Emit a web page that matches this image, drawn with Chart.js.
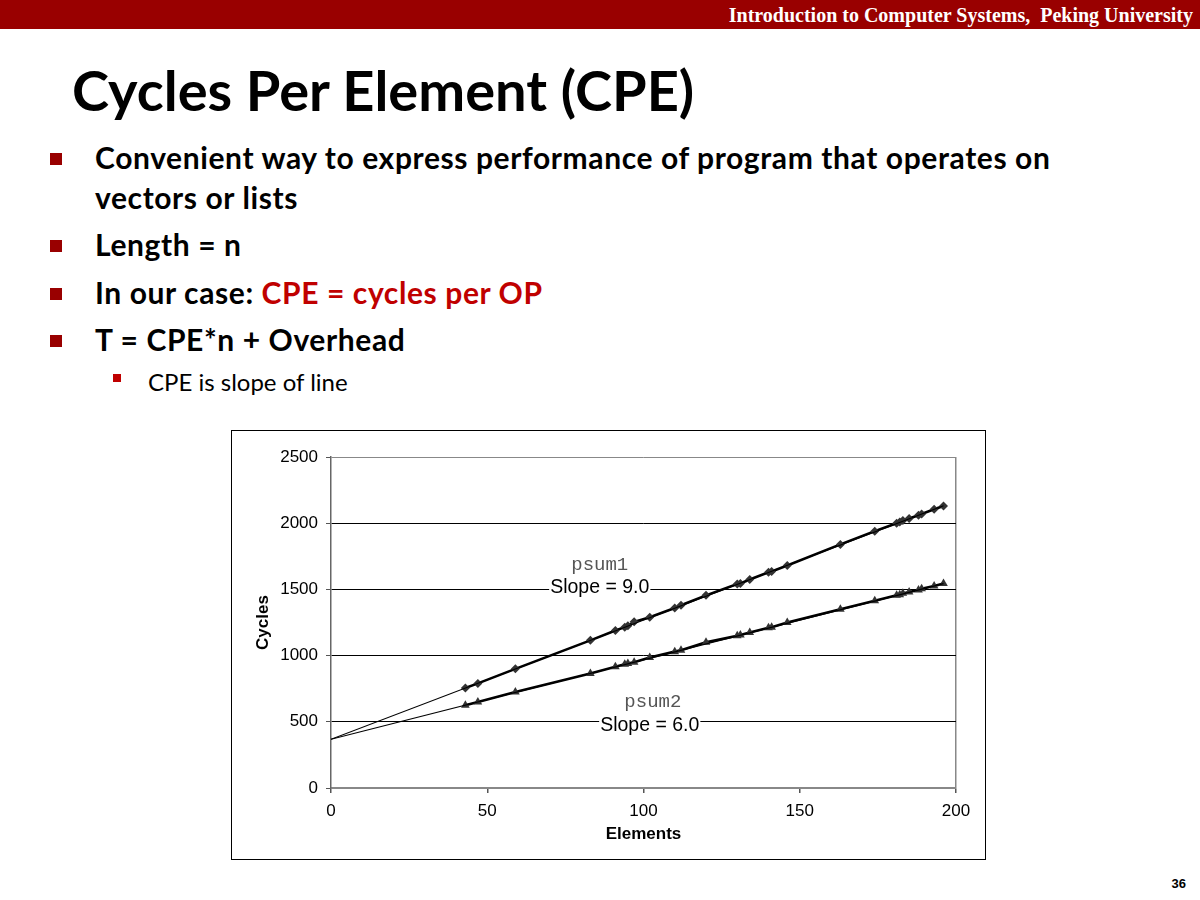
<!DOCTYPE html>
<html>
<head>
<meta charset="utf-8">
<script src="https://cdn.jsdelivr.net/npm/chart.js@4/dist/chart.umd.min.js"></script>
<style>
  body { margin: 0; width: 1200px; height: 900px; background: #fff; position: relative; overflow: hidden; font-family: Lato, sans-serif; }
  .topbar { position: absolute; left: 0; top: 0; width: 1200px; height: 29px; background: #990000; }
  .topbar span { position: absolute; right: 7px; top: 3px; color: #fff; font: bold 20px "Liberation Serif", serif; line-height: 24px; }
  h1 { position: absolute; left: 72px; top: 60px; margin: 0; font: 700 56px Lato, sans-serif; line-height: 60px; color: #000; }
  .b { position: absolute; left: 95px; font: 700 30px Lato, sans-serif; letter-spacing: 0.6px; color: #000; line-height: 40px; }
  .sq { position: absolute; left: 50px; width: 12px; height: 12px; background: #990000; }
  .red { color: #c00000; }
  .sub { position: absolute; left: 148px; top: 366px; font: 400 24px Lato, sans-serif; line-height: 32px; }
  .sq2 { position: absolute; left: 113px; top: 374px; width: 8px; height: 8px; background: #c00000; }
  .page { position: absolute; right: 14px; top: 876px; font: bold 13px "Liberation Sans", sans-serif; }
  #box { position: absolute; left: 231px; top: 430px; width: 753px; height: 428px; border: 1px solid #000; }
</style>
</head>
<body>
<div class="topbar"><span>Introduction to Computer Systems,&nbsp; Peking University</span></div>
<h1>Cycles Per Element (CPE)</h1>
<div class="sq" style="top:153px"></div>
<div class="b" style="top:137px">Convenient way to express performance of program that operates on<br>vectors or lists</div>
<div class="sq" style="top:240px"></div>
<div class="b" style="top:224px">Length = n</div>
<div class="sq" style="top:288px"></div>
<div class="b" style="top:272px">In our case: <span class="red">CPE = cycles per OP</span></div>
<div class="sq" style="top:335px"></div>
<div class="b" style="top:319px">T = CPE*n + Overhead</div>
<div class="sq2"></div>
<div class="sub">CPE is slope of line</div>
<div class="page">36</div>

<div id="box"><canvas id="cpe"></canvas></div>

<script>
// element counts measured
const elements = [43, 47, 59, 83, 91, 94, 95, 97, 102, 110, 112, 120, 130, 131, 134, 140, 141, 146, 163, 174, 181, 182, 183, 185, 188, 189, 193, 196];
const psum1Cycles = [755, 790, 900, 1115, 1190, 1215, 1225, 1255, 1290, 1360, 1380, 1455, 1540, 1545, 1575, 1630, 1635, 1680, 1840, 1940, 2000, 2010, 2020, 2035, 2060, 2070, 2105, 2130];
const psum2Cycles = [625, 650, 725, 865, 915, 935, 940, 950, 985, 1030, 1040, 1100, 1150, 1155, 1175, 1210, 1215, 1250, 1350, 1415, 1455, 1460, 1470, 1480, 1495, 1505, 1525, 1545];

// fitted lines (from x=0 to last element)
const fitX = [0, 196];
const fit1 = [368, 2132];
const fit2 = [368, 1544];

const yTicks = [0, 500, 1000, 1500, 2000, 2500];
const xTicks = [0, 50, 100, 150, 200];

// labels drawn inside the plot: [x, y, text, font, colour]
const notes = [
  [86, 1684, 'psum1', '19px "Liberation Mono", monospace', '#555'],
  [86, 1510, 'Slope = 9.0', '19.5px "Liberation Sans", Arial, sans-serif', '#000'],
  [103, 650, 'psum2', '19px "Liberation Mono", monospace', '#555'],
  [102, 468, 'Slope = 6.0', '19.5px "Liberation Sans", Arial, sans-serif', '#000']
];

function pts(xs, ys) {
  return xs.map((x, i) => ({ x: x, y: ys[i] }));
}

const notesPlugin = {
  id: 'notes',
  afterDatasetsDraw(chart) {
    const ctx = chart.ctx;
    const xs = chart.scales.x, ys = chart.scales.y;
    ctx.save();
    ctx.textAlign = 'center';
    ctx.textBaseline = 'middle';
    notes.forEach(n => {
      const px = xs.getPixelForValue(n[0]);
      const py = ys.getPixelForValue(n[1]);
      ctx.font = n[3];
      const w = ctx.measureText(n[2]).width;
      if (n[2].startsWith('Slope')) {
        ctx.fillStyle = '#fff';
        ctx.fillRect(px - w / 2 - 1, py - 10, w + 2, 20);
      }
      ctx.fillStyle = n[4];
      ctx.fillText(n[2], px, py);
    });
    ctx.restore();
  }
};

const tickFont = { family: '"Liberation Sans", Arial, sans-serif', size: 17 };
const titleFont = { family: '"Liberation Sans", Arial, sans-serif', size: 17, weight: 'bold' };

new Chart(document.getElementById('cpe'), {
  type: 'scatter',
  data: {
    datasets: [
      { label: 'fit1', data: pts(fitX, fit1), showLine: true, borderColor: '#000', borderWidth: 1.2, pointRadius: 0 },
      { label: 'fit2', data: pts(fitX, fit2), showLine: true, borderColor: '#000', borderWidth: 1.2, pointRadius: 0 },
      { label: 'psum1', data: pts(elements, psum1Cycles), showLine: true, borderColor: '#000', borderWidth: 2.6,
        pointStyle: 'rectRot', pointRadius: 4.5, pointBackgroundColor: '#333', pointBorderColor: '#333', pointBorderWidth: 0 },
      { label: 'psum2', data: pts(elements, psum2Cycles), showLine: true, borderColor: '#000', borderWidth: 2.6,
        pointStyle: 'triangle', pointRadius: 5, pointBackgroundColor: '#333', pointBorderColor: '#333', pointBorderWidth: 0 }
    ]
  },
  options: {
    responsive: true,
    maintainAspectRatio: false,
    animation: false,
    layout: { padding: { top: 26, right: 29, left: 0, bottom: 0 } },
    plugins: { legend: { display: false }, tooltip: { enabled: false } },
    scales: {
      x: {
        type: 'linear', min: 0, max: 200,
        afterBuildTicks: s => { s.ticks = xTicks.map(v => ({ value: v })); },
        afterFit: s => { s.height = 71; },
        ticks: { color: '#000', font: tickFont, padding: 8, callback: v => String(v) },
        grid: {
          color: c => c.tick && c.tick.value === 200 ? '#888' : 'transparent',
          tickColor: '#555', tickLength: 5, lineWidth: 1.5
        },
        border: { color: '#888', width: 1.5 },
        title: { display: true, text: 'Elements', color: '#000', font: titleFont, padding: { top: 4, bottom: 14 } }
      },
      y: {
        type: 'linear', min: 0, max: 2500,
        afterBuildTicks: s => { s.ticks = yTicks.map(v => ({ value: v })); },
        afterFit: s => { s.width = 99; },
        ticks: { color: '#000', font: tickFont, padding: 8, callback: v => String(v) },
        grid: {
          color: c => (c.tick && (c.tick.value === 0 || c.tick.value === 2500)) ? '#888' : '#000',
          tickColor: '#555', tickLength: 5, lineWidth: 1
        },
        border: { color: '#666', width: 1.5 },
        title: { display: true, text: 'Cycles', color: '#000', font: titleFont, padding: { top: 21, bottom: 0 } }
      }
    }
  },
  plugins: [notesPlugin]
});
</script>
</body>
</html>
